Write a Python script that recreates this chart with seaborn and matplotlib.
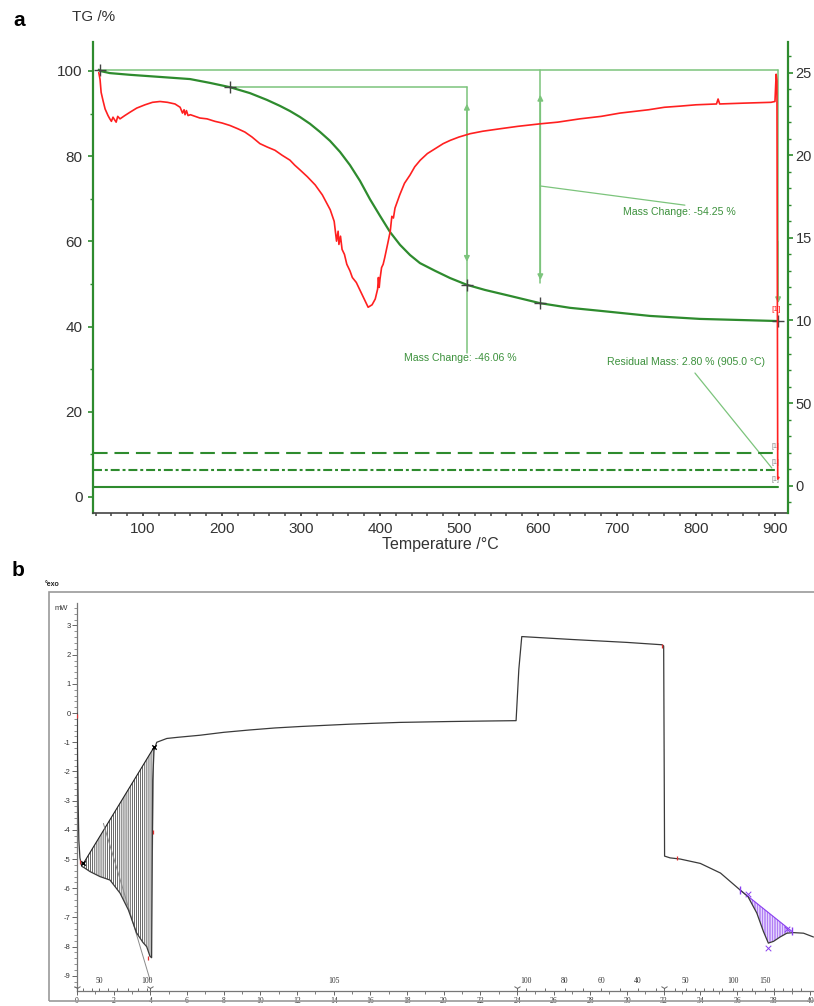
import numpy as np
import pandas as pd
import matplotlib
matplotlib.use("Agg")
import matplotlib.pyplot as plt
import seaborn as sns
from matplotlib.patches import Rectangle
from matplotlib.ticker import MultipleLocator, FixedLocator, FixedFormatter

sns.set_theme(style="white")
plt.rcParams["font.family"] = ["Liberation Sans", "DejaVu Sans"]
plt.rcParams["hatch.linewidth"] = 0.45
plt.rcParams["axes.unicode_minus"] = False

# ---------------- panel a data ----------------
tg_temp = [44, 45.6, 58, 83.5, 121.5, 159.5, 184.8, 210, 235.4, 257, 273.4,
           286, 298.7, 311.4, 324, 336.7, 349.4, 362, 374.7, 387.3, 400,
           412.7, 425.3, 438, 450.6, 469.6, 488.6, 510, 532.9, 564.6, 602.5,
           640.5, 678.5, 741.8, 805, 903.8]
tg_mass = [100.3, 100.0, 99.5, 99.1, 98.6, 98.1, 97.2, 96.2, 94.8, 93.2, 91.8,
           90.6, 89.2, 87.6, 85.7, 83.6, 81.0, 77.9, 74.2, 69.9, 66.0, 62.2,
           59.2, 56.8, 54.9, 53.1, 51.4, 49.8, 48.6, 47.2, 45.5, 44.4, 43.7,
           42.5, 41.8, 41.3]

dtg_temp = [44, 45.6, 47, 49.4, 52, 55.7, 58, 60, 62, 64.6, 66, 68, 70.9, 77,
            83.5, 92, 102.5, 112, 121.5, 131, 140.5, 147, 150, 152, 153.2, 155,
            157, 160, 166, 172, 181, 191, 200, 210, 220, 229, 238, 248, 257,
            267, 276, 286, 292, 299, 308, 318, 327, 337, 342, 345, 347, 348,
            350, 352, 355, 358, 362, 365, 370, 375, 380, 385, 390, 394, 397,
            398, 399, 400, 402, 404, 406, 410, 413, 415, 417, 419, 425, 431,
            438, 444, 451, 460, 470, 480, 489, 500, 514, 530, 552, 575, 603,
            625, 653, 680, 704, 740, 760, 780, 800, 826, 828, 830, 860, 895,
            900, 901.5, 902.5, 903.5, 905]
dtg_signal = [25.0, 24.6, 23.8, 23.3, 22.8, 22.4, 22.2, 22.05, 22.3, 22.1, 22.0,
              22.35, 22.2, 22.4, 22.6, 22.85, 23.05, 23.2, 23.25, 23.2, 23.1,
              22.9, 22.55, 22.75, 22.45, 22.7, 22.4, 22.45, 22.35, 22.25, 22.2,
              22.05, 21.95, 21.8, 21.6, 21.4, 21.1, 20.7, 20.5, 20.3, 20.0,
              19.7, 19.4, 19.1, 18.7, 18.2, 17.6, 16.7, 16.0, 14.8, 15.4, 14.6,
              15.1, 14.3, 14.0, 13.4, 13.0, 12.6, 12.3, 11.8, 11.3, 10.8, 10.95,
              11.3, 11.9, 12.6, 12.0, 12.5, 13.2, 13.4, 13.8, 14.7, 15.4, 16.3,
              16.2, 16.8, 17.6, 18.3, 18.8, 19.3, 19.7, 20.1, 20.4, 20.7, 20.9,
              21.1, 21.3, 21.45, 21.6, 21.75, 21.9, 22.0, 22.2, 22.35, 22.55,
              22.75, 22.9, 22.97, 23.05, 23.1, 23.4, 23.1, 23.15, 23.2, 23.25,
              24.9, 24.5, 0.4, 0.5]

mark_temp = [45.6, 210, 510, 603, 904]
mark_mass = [100.2, 96.2, 49.8, 45.5, 41.3]
step_levels = [10.3, 6.3, 2.3]
right_ticks = [0, 5, 10, 15, 20, 25]
right_tick_labels = ["0", "50", "10", "15", "20", "25"]

# ---------------- panel b data ----------------
dsc_time = [0, 0.03, 0.06, 0.1, 0.16, 0.26, 0.4, 0.71, 1.25, 1.8, 2.35, 2.8,
            3.25, 3.6, 3.8, 3.98, 4.07, 4.13, 4.2, 4.35, 4.9, 5.5, 6.7, 8.0,
            9.4, 10.8, 12.2, 14.9, 16.2, 17.6, 20.3, 22.0, 23.95, 24.1, 24.26,
            27.0, 30.0, 31.9, 32.0, 32.05, 32.35, 32.9, 34.0, 35.1, 36.17,
            36.6, 37.08, 37.44, 37.71, 37.99, 38.35, 38.72, 39.08, 39.63,
            40.17]
dsc_mw = [0, -1.6, -3.0, -4.35, -4.96, -5.25, -5.3, -5.43, -5.6, -5.72, -6.17,
          -6.74, -7.53, -7.86, -8.0, -8.33, -8.38, -2.3, -1.28, -1.0, -0.87,
          -0.83, -0.76, -0.66, -0.58, -0.51, -0.46, -0.38, -0.35, -0.32,
          -0.29, -0.275, -0.26, 1.5, 2.62, 2.52, 2.42, 2.34, 2.3, -4.9, -4.96,
          -5.0, -5.15, -5.48, -6.06, -6.29, -6.85, -7.48, -7.88, -7.82, -7.67,
          -7.54, -7.52, -7.54, -7.67]

peak1_base_t = [0.35, 4.22]
peak1_base_mw = [-5.15, -1.15]
peak1_end_t = 4.07
peak2_base_t = [36.17, 39.0]
peak2_base_mw = [-6.06, -7.48]
tangent_t = [1.44, 3.98]
tangent_mw = [-3.78, -9.13]
red_mark_t = [0.0, 0.16, 4.13, 3.89, 31.9, 32.7]
red_mark_mw = [-0.1, -5.09, -4.07, -8.39, 2.3, -4.96]
purple_x_t = [36.6, 37.71, 38.72]
purple_x_mw = [-6.2, -8.04, -7.39]

temp_label_t = [1.2, 3.8, 14.0, 24.5, 26.6, 28.6, 30.6, 33.2, 35.8, 37.5]
temp_labels = ["50", "100", "105", "100", "80", "60", "40", "50", "100", "150"]
temp_tick_t = [0.3, 0.8, 1.2, 1.7, 2.2, 2.8, 3.3, 3.8, 24.5, 25.5, 26.6, 27.6,
               28.6, 29.6, 30.6, 31.6, 32.6, 33.2, 33.7, 34.2, 34.7, 35.2,
               35.8, 36.3, 36.8, 37.5, 38.0, 38.5, 39.0, 39.5]
segment_t = [0, 4, 24, 32]

W, H = 814, 1006
fig = plt.figure(figsize=(W / 100, H / 100), dpi=100)

GREEN = "#2e8b2e"
LGREEN = "#7cc47c"
TGREEN = "#3c913c"
RED = "#ff2020"
DARK = "#333333"

# ================= panel a =================
axA = fig.add_axes([93 / W, 1 - 513 / H, (788 - 93) / W, (513 - 42) / H])
axA2 = axA.twinx()

df_tg = pd.DataFrame({"T": tg_temp, "TG": tg_mass})
df_dtg = pd.DataFrame({"T": dtg_temp, "S": dtg_signal})

# annotation lines (light green)
axA.plot([45.6, 904], [100.2, 100.2], color=LGREEN, lw=1.1, zorder=1)
axA.plot([210, 510], [96.2, 96.2], color=LGREEN, lw=1.1, zorder=1)
axA.plot([510, 510], [96.2, 33.8], color=LGREEN, lw=1.1, zorder=1)
axA.plot([603, 603], [100.2, 50.2], color=LGREEN, lw=1.1, zorder=1)
axA.plot([904, 904], [100.2, 46.5], color=LGREEN, lw=1.1, zorder=1)
arrow_kw = dict(arrowstyle="<|-|>", color=LGREEN, lw=1.1, mutation_scale=8,
                shrinkA=0, shrinkB=0)
axA.annotate("", xy=(510, 55.2), xytext=(510, 92.3), arrowprops=arrow_kw)
axA.annotate("", xy=(603, 50.9), xytext=(603, 94.4), arrowprops=arrow_kw)
axA.annotate("", xy=(904, 45.5), xytext=(904, 60),
             arrowprops=dict(arrowstyle="-|>", color=LGREEN, lw=1.1,
                             mutation_scale=8, shrinkA=0, shrinkB=0))
axA.plot([603, 786], [73.0, 68.5], color=LGREEN, lw=0.9)
axA.plot([798.7, 896], [29.1, 6.8], color=LGREEN, lw=0.9)

axA.text(707, 66.9, "Mass Change: -54.25 %", color=TGREEN, fontsize=7.6,
         va="center", ha="left")
axA.text(431, 32.6, "Mass Change: -46.06 %", color=TGREEN, fontsize=7.6,
         va="center", ha="left")
axA.text(688, 31.7, "Residual Mass: 2.80 % (905.0 °C)", color=TGREEN,
         fontsize=7.6, va="center", ha="left")

# step lines at the bottom
axA.plot([36.7, 904], [step_levels[0]] * 2, color=GREEN, lw=1.5,
         dashes=(7, 3.3))
axA.plot([36.7, 904], [step_levels[1]] * 2, color=GREEN, lw=1.5,
         dashes=(4.3, 1.4, 1.4, 1.4))
axA.plot([36.7, 904], [step_levels[2]] * 2, color=GREEN, lw=1.5)
for lv, yy in zip(step_levels, [11.9, 8.0, 4.2]):
    axA.text(901, yy, "[1]", color="#888888", fontsize=5, ha="center",
             va="center")

sns.lineplot(data=df_tg, x="T", y="TG", ax=axA, color=GREEN, lw=1.6,
             estimator=None, sort=False, zorder=3)
axA.scatter(mark_temp, mark_mass, marker="+", s=70, color="#444444", lw=1.0,
            zorder=5)
axA.text(901, 43.9, "[1]", color=RED, fontsize=6, ha="center", va="center",
         zorder=6)

sns.lineplot(data=df_dtg, x="T", y="S", ax=axA2, color=RED, lw=1.2,
             estimator=None, sort=False)

axA.set_xlim(36.7, 916.5)
axA.set_ylim(-3.76, 106.8)
axA2.set_ylim(-1.65, 26.85)

axA.set_xlabel("Temperature /°C", fontsize=11.5, color=DARK, labelpad=1)
axA.set_ylabel("")
axA2.set_ylabel("")

axA.xaxis.set_major_locator(MultipleLocator(100))
axA.xaxis.set_minor_locator(MultipleLocator(20))
axA.yaxis.set_major_locator(MultipleLocator(20))
axA.yaxis.set_minor_locator(MultipleLocator(10))
axA2.yaxis.set_major_locator(FixedLocator(right_ticks))
axA2.yaxis.set_major_formatter(FixedFormatter(right_tick_labels))
axA2.yaxis.set_minor_locator(MultipleLocator(1))

for ax in (axA, axA2):
    ax.spines["top"].set_visible(False)
    ax.grid(False)
    ax.set_facecolor("none")
axA.spines["right"].set_visible(False)
axA.spines["left"].set_color(GREEN)
axA.spines["left"].set_linewidth(1.6)
axA.spines["bottom"].set_color("#444444")
axA.spines["bottom"].set_linewidth(1.2)
axA2.spines["left"].set_visible(False)
axA2.spines["bottom"].set_visible(False)
axA2.spines["right"].set_color(GREEN)
axA2.spines["right"].set_linewidth(1.6)

axA.tick_params(axis="x", which="major", direction="out", length=2.5,
                width=1.3, colors="#444444", labelsize=11, labelcolor=DARK,
                bottom=True, pad=4)
axA.tick_params(axis="x", which="minor", direction="out", length=2.2,
                width=1.1, colors="#444444", bottom=True)
axA.tick_params(axis="y", which="major", direction="out", length=3.5,
                width=1.2, colors=GREEN, labelsize=11, labelcolor=DARK,
                left=True, pad=4)
axA.tick_params(axis="y", which="minor", direction="out", length=2.5,
                width=1.0, colors=GREEN, left=True)
axA2.tick_params(axis="y", which="major", direction="out", length=3.5,
                 width=1.2, colors=GREEN, labelsize=10.5, labelcolor=DARK,
                 right=True, pad=2)
axA2.tick_params(axis="y", which="minor", direction="out", length=2.5,
                 width=1.0, colors=GREEN, right=True)

fig.text(72 / W, 1 - 17 / H, "TG /%", fontsize=11, color=DARK, va="center",
         ha="left")
fig.text(13 / W, 1 - 20 / H, "a", fontsize=15, fontweight="bold",
         va="center", ha="left", color="black")
fig.text(12 / W, 1 - 570 / H, "b", fontsize=15, fontweight="bold",
         va="center", ha="left", color="black")

# ================= panel b =================
fig.add_artist(Rectangle((49 / W, 1 - 1001 / H), 1.0, (1001 - 592) / H,
                         transform=fig.transFigure, fill=False,
                         edgecolor="#9a9a9a", lw=1.2))
fig.text(45 / W, 1 - 584 / H, "°exo", fontsize=5, fontweight="bold",
         va="center", ha="left", color="#222222")

axB = fig.add_axes([77 / W, 1 - 991 / H, (W - 77) / W, (991 - 603) / H])
df_dsc = pd.DataFrame({"t": dsc_time, "mW": dsc_mw})

t_arr = np.array(dsc_time)
m_arr = np.array(dsc_mw)
sel1 = (t_arr > peak1_base_t[0]) & (t_arr <= peak1_end_t)
px1 = [peak1_base_t[0]] + list(t_arr[sel1]) + [peak1_base_t[1]]
py1 = [peak1_base_mw[0]] + list(m_arr[sel1]) + [peak1_base_mw[1]]
axB.fill(px1, py1, facecolor="none", edgecolor="#111111",
         hatch="||||||||", lw=0, zorder=1)
axB.plot(peak1_base_t, peak1_base_mw, color="#222222", lw=0.8, zorder=2)
axB.plot(tangent_t, tangent_mw, color="#8a8a8a", lw=0.7, zorder=2)

sel2 = (t_arr > peak2_base_t[0]) & (t_arr < peak2_base_t[1])
px2 = [peak2_base_t[0]] + list(t_arr[sel2]) + [peak2_base_t[1]]
py2 = [peak2_base_mw[0]] + list(m_arr[sel2]) + [peak2_base_mw[1]]
PURPLE = "#8a3ff0"
axB.fill(px2, py2, facecolor="#f3ebff", edgecolor=PURPLE,
         hatch="||||||||||", lw=0, zorder=1)
axB.plot(peak2_base_t, peak2_base_mw, color=PURPLE, lw=0.8, zorder=2)

sns.lineplot(data=df_dsc, x="t", y="mW", ax=axB, color="#3a3a3a", lw=0.9,
             estimator=None, sort=False, zorder=3)

axB.scatter(peak1_base_t, peak1_base_mw, marker="x", s=10, color="black",
            lw=1.0, zorder=4)
axB.scatter(peak2_base_t, peak2_base_mw, marker="|", s=30, color=PURPLE,
            lw=1.0, zorder=4)
axB.scatter(purple_x_t, purple_x_mw, marker="x", s=16, color=PURPLE, lw=0.7,
            zorder=4)
axB.scatter(red_mark_t, red_mark_mw, marker="|", s=12, color="#e03030",
            lw=0.9, zorder=5)

axB.set_xlim(0, 40.2)
axB.set_ylim(-9.52, 3.77)
axB.set_xlabel("")
axB.set_ylabel("")
axB.grid(False)
for s in ("top", "right"):
    axB.spines[s].set_visible(False)
for s in ("left", "bottom"):
    axB.spines[s].set_color("#777777")
    axB.spines[s].set_linewidth(0.9)

axB.xaxis.set_major_locator(MultipleLocator(2))
axB.xaxis.set_minor_locator(MultipleLocator(1))
axB.yaxis.set_major_locator(MultipleLocator(1))
axB.yaxis.set_minor_locator(MultipleLocator(0.2))
axB.tick_params(axis="x", which="major", direction="out", length=3, width=0.7,
                colors="#666666", labelsize=5.5, labelcolor="#333333",
                bottom=True, pad=1)
axB.tick_params(axis="x", which="minor", direction="out", length=2,
                width=0.6, colors="#666666", bottom=True)
axB.tick_params(axis="y", which="major", direction="out", length=3.5,
                width=0.7, colors="#666666", labelsize=5.5,
                labelcolor="#333333", left=True, pad=1)
axB.tick_params(axis="y", which="minor", direction="out", length=2,
                width=0.5, colors="#666666", left=True)
for lab in axB.get_xticklabels():
    lab.set_family(["Liberation Serif", "DejaVu Serif"])
axB.text(-0.012, 0.985, "mW", transform=axB.transAxes, fontsize=5.5,
         color="#333333", ha="right", va="center")

xt = axB.get_xaxis_transform()
for tt, lab in zip(temp_label_t, temp_labels):
    axB.text(tt, 0.016, lab, transform=xt, fontsize=5.5, ha="center",
             va="bottom", color="#333333",
             family=["Liberation Serif", "DejaVu Serif"])
axB.vlines(temp_tick_t, 0, 0.009, transform=xt, color="#555555", lw=0.6)
axB.scatter(segment_t, [0.008] * len(segment_t), transform=xt, marker="1",
            s=30, color="#666666", lw=0.7, clip_on=False, zorder=6)

fig.savefig("out.png", dpi=100)
